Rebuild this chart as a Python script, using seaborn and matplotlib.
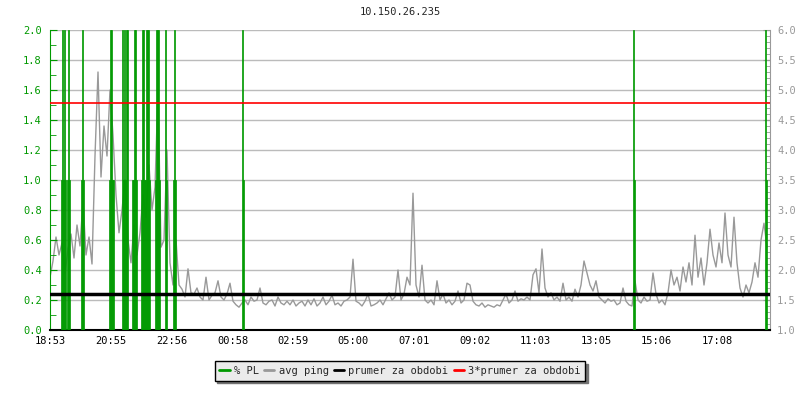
import numpy as np
import pandas as pd
import seaborn as sns
import matplotlib.pyplot as plt
from matplotlib.ticker import MultipleLocator, FixedLocator
from matplotlib.lines import Line2D

title = "10.150.26.235"

# x axis: minutes since 18:53
tick_min = [0, 122, 243, 365, 486, 607, 728, 849, 970, 1092, 1213, 1335]
tick_labels = ["18:53", "20:55", "22:56", "00:58", "02:59", "05:00",
               "07:01", "09:02", "11:03", "13:05", "15:06", "17:08"]

# avg ping (right axis), one sample every 6 minutes, one row = 2 hours
ping_step = 6
ping_ms = [
    1.88, 2.15, 2.55, 2.25, 2.45, 1.95, 2.35, 2.60, 2.20, 2.75, 2.40, 3.15, 2.25, 2.55, 2.10, 3.90, 5.30, 3.55, 4.40, 3.90,
    5.00, 4.25, 3.25, 2.62, 3.00, 3.50, 2.50, 2.12, 2.75, 2.25, 2.62, 3.25, 2.88, 3.75, 3.00, 3.38, 5.00, 2.38, 2.50, 4.00,
    2.12, 1.75, 2.50, 1.75, 1.68, 1.55, 2.02, 1.62, 1.60, 1.70, 1.55, 1.50, 1.88, 1.50, 1.58, 1.62, 1.82, 1.55, 1.50, 1.60,
    1.78, 1.48, 1.42, 1.38, 1.45, 1.50, 1.42, 1.55, 1.48, 1.50, 1.70, 1.45, 1.42, 1.48, 1.50, 1.40, 1.55, 1.45, 1.42, 1.48,
    1.42, 1.50, 1.40, 1.45, 1.48, 1.40, 1.50, 1.42, 1.52, 1.40, 1.45, 1.55, 1.42, 1.48, 1.58, 1.42, 1.45, 1.40, 1.48, 1.50,
    1.55, 2.18, 1.48, 1.45, 1.40, 1.48, 1.60, 1.40, 1.42, 1.45, 1.50, 1.42, 1.52, 1.62, 1.50, 1.55, 2.00, 1.50, 1.60, 1.88,
    1.75, 3.28, 1.75, 1.55, 2.08, 1.50, 1.45, 1.50, 1.42, 1.82, 1.50, 1.60, 1.45, 1.50, 1.42, 1.48, 1.65, 1.45, 1.50, 1.78,
    1.75, 1.48, 1.42, 1.40, 1.45, 1.38, 1.42, 1.40, 1.38, 1.42, 1.40, 1.50, 1.60, 1.45, 1.50, 1.65, 1.48, 1.52, 1.50, 1.55,
    1.50, 1.92, 2.02, 1.62, 2.35, 1.70, 1.55, 1.62, 1.50, 1.55, 1.48, 1.78, 1.50, 1.55, 1.48, 1.68, 1.55, 1.75, 2.15, 1.95,
    1.75, 1.65, 1.82, 1.55, 1.50, 1.45, 1.52, 1.48, 1.50, 1.42, 1.45, 1.70, 1.48, 1.42, 1.40, 1.82, 1.50, 1.45, 1.55, 1.48,
    1.50, 1.95, 1.60, 1.45, 1.50, 1.42, 1.62, 2.00, 1.75, 1.88, 1.65, 2.05, 1.80, 2.12, 1.75, 2.58, 1.88, 2.20, 1.75, 2.12,
    2.68, 2.25, 2.05, 2.45, 2.12, 2.95, 2.25, 2.05, 2.88, 2.12, 1.70, 1.55, 1.75, 1.62, 1.80, 2.12, 1.88, 2.50, 2.78, 2.38,
]

# packet loss (left axis), 2 minute samples
pl_min = [22, 24, 26, 28, 30, 34, 36, 38, 62, 64, 66, 118, 120, 122, 124, 126,
          144, 146, 148, 150, 152, 154, 164, 166, 168, 170, 172,
          182, 184, 186, 188, 190, 192, 194, 196, 198, 210, 212, 214, 216, 218,
          230, 232, 246, 248, 250, 384, 386, 1166, 1168, 1430, 1432]
pl_pct = [1, 2, 1, 2, 1, 1, 2, 1, 1, 2, 1, 1, 2, 2, 1, 1,
          2, 1, 2, 1, 2, 2, 1, 1, 2, 2, 1,
          1, 2, 2, 1, 1, 2, 2, 2, 1, 1, 2, 2, 2, 1,
          2, 1, 1, 2, 1, 2, 1, 2, 1, 2, 1]

avg_ms = 1.595

green = "#009900"
grey = "#999999"

sns.set_style("white")
plt.rcParams['font.family'] = ['DejaVu Sans Mono']
plt.rcParams['font.size'] = 7.5

fig = plt.figure(figsize=(8, 4), dpi=100)
ax = fig.add_axes([50 / 800, 70 / 400, 720 / 800, 300 / 400])
ax2 = ax.twinx()

# ping goes on the right axis, drawn below the packet loss bars
ax2.set_zorder(1)
ax.set_zorder(2)
ax.patch.set_visible(False)

df = pd.DataFrame({"t": np.arange(len(ping_ms)) * ping_step, "ping": ping_ms})
sns.lineplot(data=df, x="t", y="ping", ax=ax2, color=grey, lw=1)
ax2.set_ylim(1, 6)

ax.bar(pl_min, pl_pct, width=2, align="edge", color=green, edgecolor=green, lw=0.5, zorder=3)
# mean lines in ping units, drawn on the left axes so they sit over the bars
ax.plot([0, 1440], [avg_ms, avg_ms], color="black", lw=2.5, zorder=4, transform=ax2.transData)
ax.plot([0, 1440], [3 * avg_ms] * 2, color="red", lw=1.2, zorder=5, transform=ax2.transData)

ax.set_xlim(0, 1440)
ax.set_ylim(0, 2)
ax.set_xlabel("")
ax.set_ylabel("")
ax2.set_ylabel("")
ax.xaxis.set_major_locator(FixedLocator(tick_min))
ax.set_xticklabels(tick_labels)
ax.yaxis.set_major_locator(MultipleLocator(0.2))
ax.yaxis.set_minor_locator(MultipleLocator(0.1))
ax.yaxis.set_major_formatter(plt.FuncFormatter(lambda v, p: f"{v:.1f}"))
ax2.yaxis.grid(True, color="#bbbbbb", lw=1)
ax2.yaxis.set_major_locator(MultipleLocator(0.5))
ax2.yaxis.set_minor_locator(MultipleLocator(0.1))
ax2.yaxis.set_major_formatter(plt.FuncFormatter(lambda v, p: f"{v:.1f}"))
ax2.set_axisbelow(True)

ax.tick_params(axis="y", which="both", direction="in", colors=green, labelcolor=green, pad=6)
ax.tick_params(axis="y", which="major", length=5)
ax.tick_params(axis="y", which="minor", length=4)
ax.tick_params(axis="x", direction="in", length=5, color="black", labelcolor="black", pad=4)
ax2.tick_params(axis="y", which="both", direction="in", colors=grey, labelcolor=grey, pad=5)
ax2.tick_params(axis="y", which="major", length=5)
ax2.tick_params(axis="y", which="minor", length=3)

for a in (ax, ax2):
    a.spines["top"].set_visible(False)
ax.spines["right"].set_visible(False)
ax2.spines["left"].set_visible(False)
ax2.spines["bottom"].set_visible(False)
ax.spines["left"].set_color(green)
ax.spines["bottom"].set_color("black")
ax.spines["bottom"].set_linewidth(1.5)
ax2.spines["right"].set_color(grey)

fig.text(0.5, 1 - 12 / 400, title, ha="center", va="center", fontsize=7.5)

handles = [Line2D([], [], color=green, lw=2), Line2D([], [], color=grey, lw=2),
           Line2D([], [], color="black", lw=2), Line2D([], [], color="red", lw=2)]
labels = ["% PL", "avg ping", "prumer za obdobi", "3*prumer za obdobi"]
fig.legend(handles, labels, loc="center", bbox_to_anchor=(0.5, 1 - 371 / 400), ncol=4,
           frameon=True, fancybox=False, shadow={"color": "0.45", "alpha": 1},
           edgecolor="black", facecolor="#ebebeb", framealpha=1,
           handlelength=1.0, handletextpad=0.4, columnspacing=0.5, borderpad=0.45)

fig.savefig("out.png", dpi=100)
